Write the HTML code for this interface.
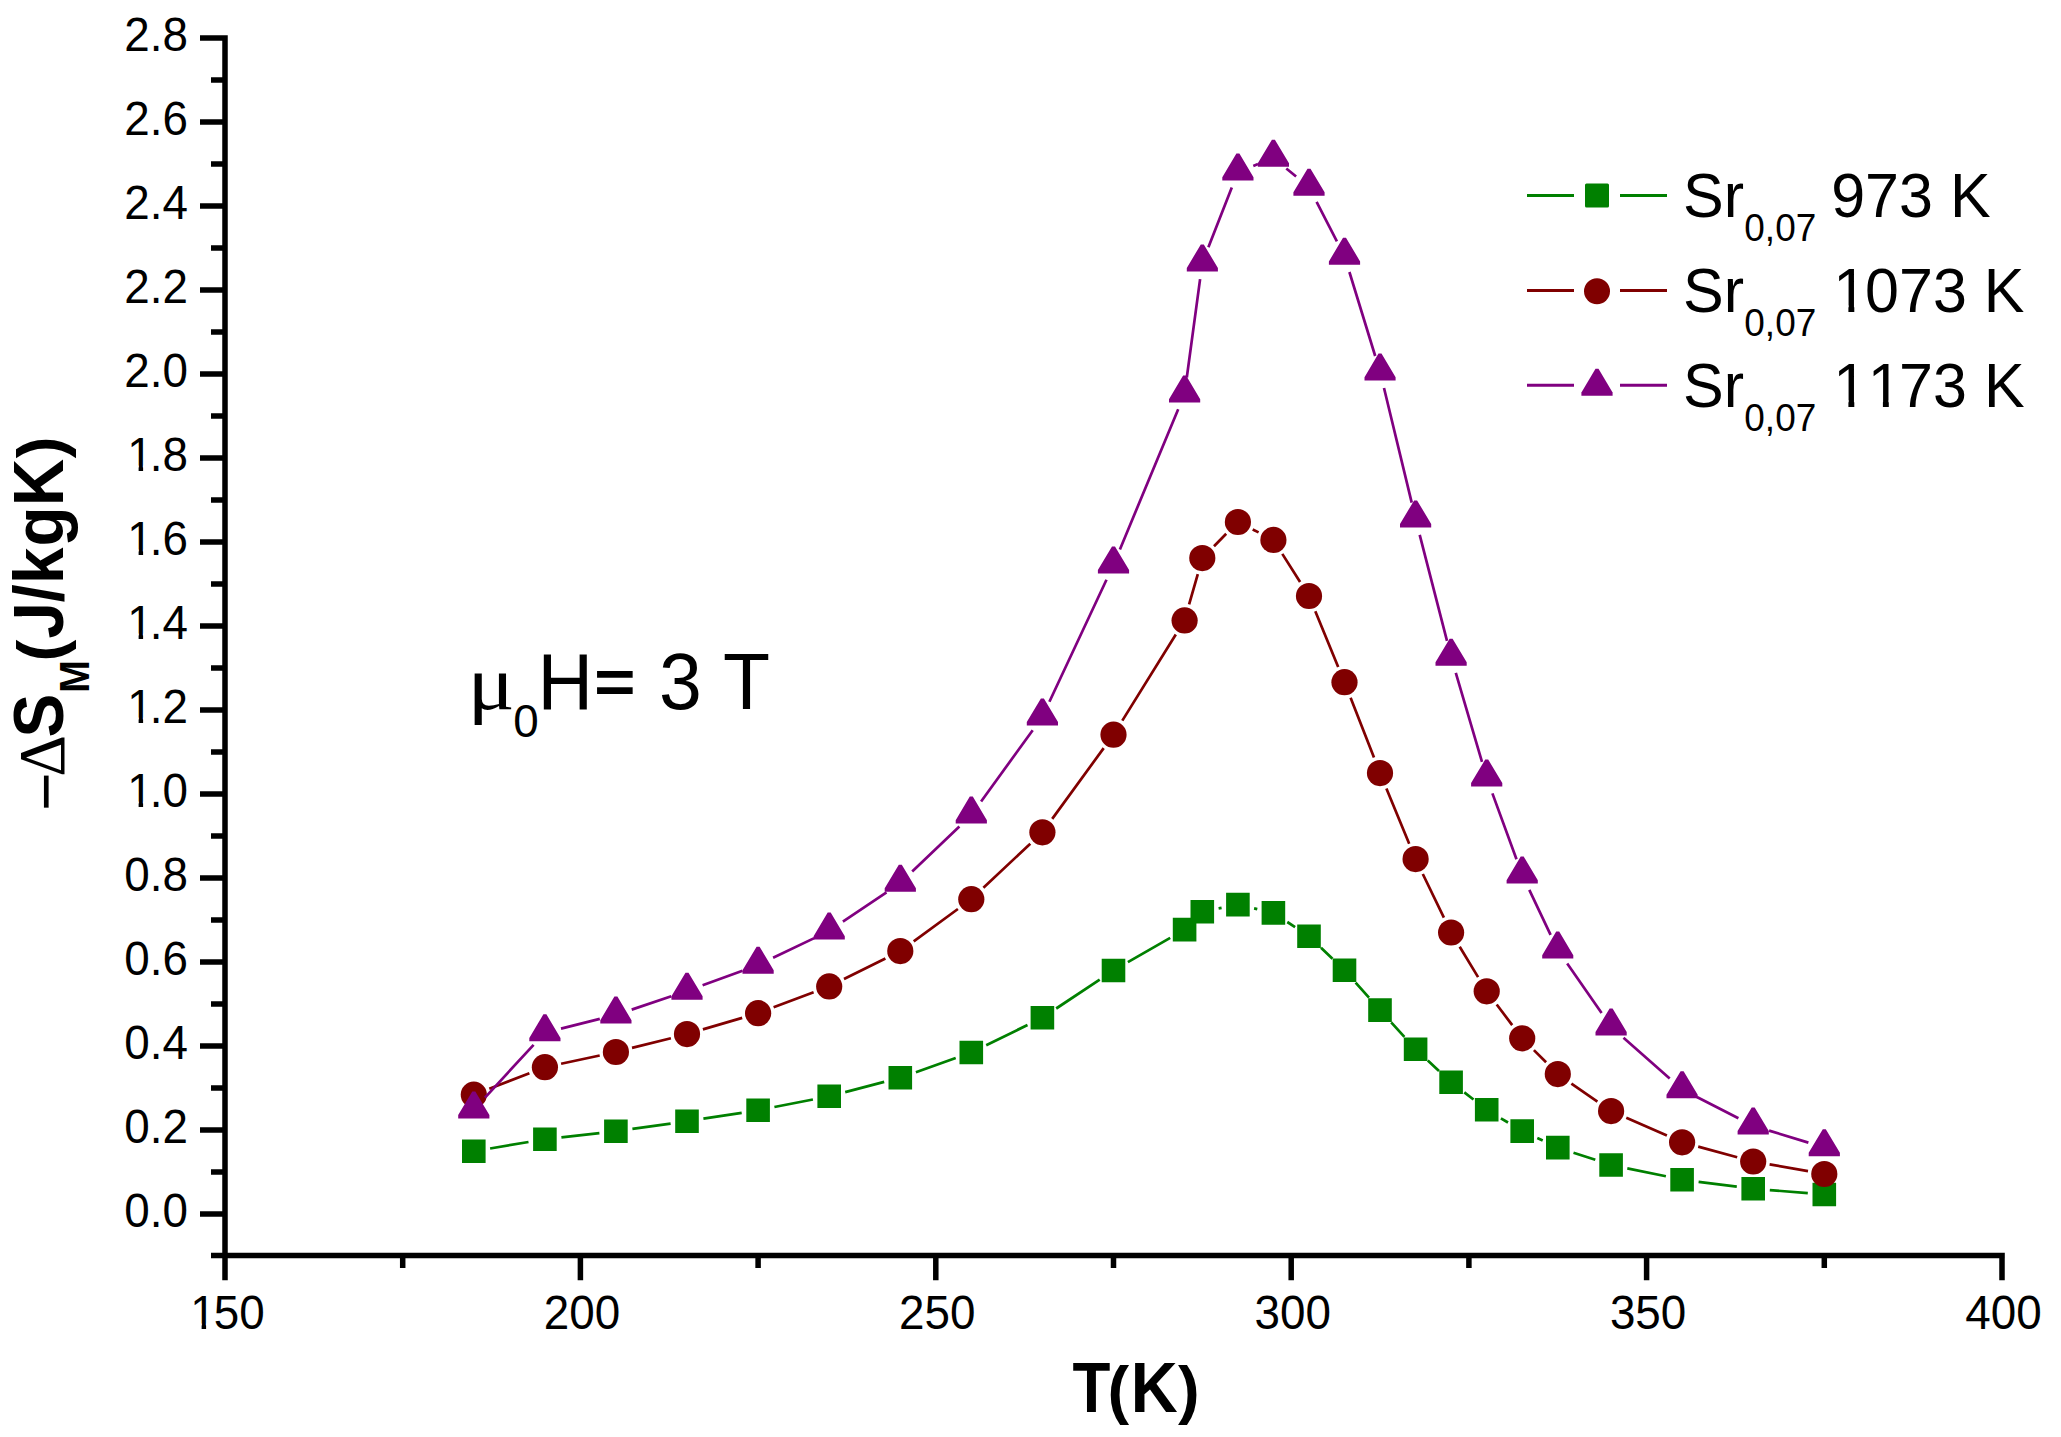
<!DOCTYPE html>
<html lang="en"><head><meta charset="utf-8"><title>Magnetic entropy change vs temperature</title>
<style>
html,body{margin:0;padding:0;background:#fff;}
body{width:2061px;height:1437px;overflow:hidden;}
svg{display:block;}
text{font-family:"Liberation Sans",sans-serif;fill:#000;font-kerning:none;white-space:pre;}
.tk{font-size:45.8px;}
.lg{font-size:61px;}
.lgs{font-size:37px;}
.b{font-weight:bold;}
.sym{font-family:"Liberation Serif","DejaVu Serif",serif;}
</style></head><body>
<svg width="2061" height="1437" viewBox="0 0 2061 1437">
<rect width="2061" height="1437" fill="#fff"/>
<path d="M225 35.2V1280.3M211 1255.6H2004.8M200 38H225M211 80H225M200 122H225M211 164H225M200 206H225M211 248H225M200 290H225M211 332H225M200 374H225M211 416H225M200 458H225M211 500H225M200 542H225M211 584H225M200 626H225M211 668H225M200 710H225M211 752H225M200 794H225M211 836H225M200 878H225M211 920H225M200 962H225M211 1004H225M200 1046H225M211 1088H225M200 1130H225M211 1172H225M200 1214H225M402.7 1255.6V1268.1M580.4 1255.6V1280.3M758.1 1255.6V1268.1M935.8 1255.6V1280.3M1113.5 1255.6V1268.1M1291.2 1255.6V1280.3M1468.9 1255.6V1268.1M1646.6 1255.6V1280.3M1824.3 1255.6V1268.1M2002 1255.6V1280.3" stroke="#000" stroke-width="5.5" fill="none" stroke-linecap="butt"/>
<defs><clipPath id="c1t"><path d="M-6 -35.8H28V-5.1H15.8V2H11.3V-5.1H-6z"/></clipPath><clipPath id="c1l"><path d="M-6 -47.7H37.2V-6.9H21V2H15.1V-6.9H-6z"/></clipPath></defs>
<g class="tk">
<text transform="translate(0 50.7) scale(1 1.03)" x="188" y="0" text-anchor="end">2.8</text>
<text transform="translate(0 134.7) scale(1 1.03)" x="188" y="0" text-anchor="end">2.6</text>
<text transform="translate(0 218.7) scale(1 1.03)" x="188" y="0" text-anchor="end">2.4</text>
<text transform="translate(0 302.7) scale(1 1.03)" x="188" y="0" text-anchor="end">2.2</text>
<text transform="translate(0 386.7) scale(1 1.03)" x="188" y="0" text-anchor="end">2.0</text>
<g transform="translate(0 470.7) scale(1 1.03)"><text clip-path="url(#c1t)" transform="translate(127.3 0)">1</text><text x="188" y="0" text-anchor="end">.8</text></g>
<g transform="translate(0 554.7) scale(1 1.03)"><text clip-path="url(#c1t)" transform="translate(127.3 0)">1</text><text x="188" y="0" text-anchor="end">.6</text></g>
<g transform="translate(0 638.7) scale(1 1.03)"><text clip-path="url(#c1t)" transform="translate(127.3 0)">1</text><text x="188" y="0" text-anchor="end">.4</text></g>
<g transform="translate(0 722.7) scale(1 1.03)"><text clip-path="url(#c1t)" transform="translate(127.3 0)">1</text><text x="188" y="0" text-anchor="end">.2</text></g>
<g transform="translate(0 806.7) scale(1 1.03)"><text clip-path="url(#c1t)" transform="translate(127.3 0)">1</text><text x="188" y="0" text-anchor="end">.0</text></g>
<text transform="translate(0 890.7) scale(1 1.03)" x="188" y="0" text-anchor="end">0.8</text>
<text transform="translate(0 974.7) scale(1 1.03)" x="188" y="0" text-anchor="end">0.6</text>
<text transform="translate(0 1058.7) scale(1 1.03)" x="188" y="0" text-anchor="end">0.4</text>
<text transform="translate(0 1142.7) scale(1 1.03)" x="188" y="0" text-anchor="end">0.2</text>
<text transform="translate(0 1226.7) scale(1 1.03)" x="188" y="0" text-anchor="end">0.0</text>
</g>
<g class="tk">
<g transform="translate(0 1328.8) scale(1 1.03)"><text clip-path="url(#c1t)" transform="translate(190.3 0)">1</text><text x="213.8" y="0">50</text></g>
<text transform="translate(0 1328.8) scale(1 1.03)" x="581.9" y="0" text-anchor="middle">200</text>
<text transform="translate(0 1328.8) scale(1 1.03)" x="937.3" y="0" text-anchor="middle">250</text>
<text transform="translate(0 1328.8) scale(1 1.03)" x="1292.7" y="0" text-anchor="middle">300</text>
<text transform="translate(0 1328.8) scale(1 1.03)" x="1648.1" y="0" text-anchor="middle">350</text>
<text transform="translate(0 1328.8) scale(1 1.03)" x="2003.5" y="0" text-anchor="middle">400</text>
</g>
<path d="M490.1 1148.5L528.5 1142M561.4 1137.3L599.4 1133.1M632.4 1128.9L670.6 1123.6M703.4 1118.7L741.7 1112.8M774.4 1107L812.9 1099.5M845.2 1092.1L884.2 1081.9M915.9 1072.2L955.7 1058M986.2 1045.2L1027.5 1025M1056.2 1008.5L1099.7 979.7M1127.9 962.2L1170.2 937.9M1218.6 908.4L1221.6 907.9M1254.1 908.4L1257.3 909.1M1287.3 922L1295.1 927.1M1321 947.7L1332.5 958.7M1355.6 982.6L1369 997.7M1391.2 1022.4L1404.4 1036.9M1427.8 1060.5L1439 1070.9M1464.3 1092.4L1473.5 1099.5M1500.9 1118.3L1508 1122.5M1537.3 1138.1L1542.7 1140.6M1573.5 1152.8L1595.3 1159.8M1627.3 1168.4L1665.9 1176.3M1698.6 1181.8L1736.8 1186.6M1769.8 1190.1L1807.8 1193.1" stroke="#008000" stroke-width="2.7" fill="none" stroke-linecap="butt"/>
<path d="M462 1139.5h23.6v23.6h-23.6zM533.1 1127.4h23.6v23.6h-23.6zM604.1 1119.4h23.6v23.6h-23.6zM675.2 1109.5h23.6v23.6h-23.6zM746.3 1098.4h23.6v23.6h-23.6zM817.4 1084.5h23.6v23.6h-23.6zM888.5 1065.9h23.6v23.6h-23.6zM959.5 1040.7h23.6v23.6h-23.6zM1030.6 1005.9h23.6v23.6h-23.6zM1101.7 958.7h23.6v23.6h-23.6zM1172.8 917.8h23.6v23.6h-23.6zM1190.5 899.9h23.6v23.6h-23.6zM1226.1 892.8h23.6v23.6h-23.6zM1261.6 901.1h23.6v23.6h-23.6zM1297.2 924.4h23.6v23.6h-23.6zM1332.7 958.4h23.6v23.6h-23.6zM1368.2 998.3h23.6v23.6h-23.6zM1403.8 1037.4h23.6v23.6h-23.6zM1439.3 1070.4h23.6v23.6h-23.6zM1474.9 1097.9h23.6v23.6h-23.6zM1510.4 1119.3h23.6v23.6h-23.6zM1546 1135.8h23.6v23.6h-23.6zM1599.3 1153.2h23.6v23.6h-23.6zM1670.3 1167.9h23.6v23.6h-23.6zM1741.4 1176.9h23.6v23.6h-23.6zM1812.5 1182.7h23.6v23.6h-23.6z" fill="#008000"/>
<path d="M489.3 1088.7L529.4 1073.2M561.1 1063.7L599.7 1055.5M632 1047.9L670.9 1038.2M702.9 1029.4L742.2 1017.9M773.6 1007.3L813.6 992.3M844 979L885.4 958.5M913.7 941.3L957.9 909M983.4 887.8L1030.3 843.7M1052.2 818.9L1103.7 748.1M1122.3 720.6L1175.8 634.5M1189.1 604.4L1197.8 574.1M1214 546.3L1226.2 533.8M1252.7 529.5L1258.6 532.4M1282.3 553.9L1300.1 582M1315.3 611.3L1338.2 666.9M1350.6 697.7L1374 757.6M1386.4 788.4L1409.2 843.8M1422.8 874L1443.9 917.6M1459.7 946.7L1478.1 977.1M1496.7 1004.5L1512.2 1025.1M1533.9 1050.1L1546.1 1062.3M1571.4 1083.6L1597.4 1101.6M1626.3 1117.8L1666.9 1135.6M1698.2 1146.6L1737.2 1157.2M1769.6 1164.4L1808 1171.1" stroke="#800000" stroke-width="2.7" fill="none" stroke-linecap="butt"/>
<g fill="#800000"><circle cx="473.8" cy="1094.7" r="13.1"/><circle cx="544.9" cy="1067.2" r="13.1"/><circle cx="615.9" cy="1052" r="13.1"/><circle cx="687" cy="1034.1" r="13.1"/><circle cx="758.1" cy="1013.2" r="13.1"/><circle cx="829.2" cy="986.4" r="13.1"/><circle cx="900.3" cy="951.1" r="13.1"/><circle cx="971.3" cy="899.2" r="13.1"/><circle cx="1042.4" cy="832.3" r="13.1"/><circle cx="1113.5" cy="734.7" r="13.1"/><circle cx="1184.6" cy="620.4" r="13.1"/><circle cx="1202.3" cy="558.1" r="13.1"/><circle cx="1237.9" cy="522" r="13.1"/><circle cx="1273.4" cy="539.9" r="13.1"/><circle cx="1309" cy="596" r="13.1"/><circle cx="1344.5" cy="682.2" r="13.1"/><circle cx="1380" cy="773.1" r="13.1"/><circle cx="1415.6" cy="859.1" r="13.1"/><circle cx="1451.1" cy="932.5" r="13.1"/><circle cx="1486.7" cy="991.3" r="13.1"/><circle cx="1522.2" cy="1038.3" r="13.1"/><circle cx="1557.8" cy="1074.1" r="13.1"/><circle cx="1611.1" cy="1111.1" r="13.1"/><circle cx="1682.1" cy="1142.3" r="13.1"/><circle cx="1753.2" cy="1161.5" r="13.1"/><circle cx="1824.3" cy="1174" r="13.1"/></g>
<path d="M485 1097.6L533.6 1044.8M561 1028.6L599.8 1018.9M631.7 1009.6L671.3 996.3M702.6 985.3L742.5 970.7M773.1 957.8L814.2 938.1M842.9 921.6L886.5 892.3M912.2 871.5L959.4 826.4M981.1 801.5L1032.7 730.2M1049.4 701.8L1106.5 579.7M1119.9 549.4L1178.2 409.2M1186.8 377.5L1200.1 279.1M1208.4 247.2L1231.8 187.4M1253.3 165.9L1258 164M1286.3 168.5L1296.1 176.5M1316.6 201.8L1336.9 241.3M1349.4 272L1375.2 356M1384 388L1411.7 502.6M1419.7 534.8L1447 640.9M1455.8 672.9L1482 761.9M1492.4 793.4L1516.5 859.3M1529.3 889.9L1550.6 934.9M1567.2 963.5L1601.6 1013.1M1623.5 1037.7L1669.7 1078.5M1696.9 1097L1738.4 1118.2M1769.1 1130.6L1808.4 1142.6" stroke="#800080" stroke-width="2.7" fill="none" stroke-linecap="butt"/>
<path d="M458.2 1118.5V1115.1L472.3 1091.5h3L489.4 1115.1V1118.5zM529.3 1041.3V1037.9L543.4 1014.3h3L560.5 1037.9V1041.3zM600.3 1023.6V1020.2L614.4 996.6h3L631.5 1020.2V1023.6zM671.4 999.7V996.3L685.5 972.7h3L702.6 996.3V999.7zM742.5 973.7V970.3L756.6 946.7h3L773.7 970.3V973.7zM813.6 939.6V936.2L827.7 912.6h3L844.8 936.2V939.6zM884.7 891.7V888.3L898.8 864.7h3L915.9 888.3V891.7zM955.7 823.6V820.2L969.8 796.6h3L986.9 820.2V823.6zM1026.8 725.5V722.1L1040.9 698.5h3L1058 722.1V725.5zM1097.9 573.4V570L1112 546.4h3L1129.1 570V573.4zM1169 402.6V399.2L1183.1 375.6h3L1200.2 399.2V402.6zM1186.8 271.4V268L1200.8 244.4h3L1217.9 268V271.4zM1222.3 180.6V177.2L1236.4 153.6h3L1253.5 177.2V180.6zM1257.8 166.7V163.3L1271.9 139.7h3L1289 163.3V166.7zM1293.4 195.7V192.3L1307.5 168.7h3L1324.6 192.3V195.7zM1328.9 264.8V261.4L1343 237.8h3L1360.1 261.4V264.8zM1364.5 380.6V377.2L1378.5 353.6h3L1395.6 377.2V380.6zM1400 527.4V524L1414.1 500.4h3L1431.2 524V527.4zM1435.5 665.7V662.3L1449.6 638.7h3L1466.7 662.3V665.7zM1471.1 786.5V783.1L1485.2 759.5h3L1502.3 783.1V786.5zM1506.6 883.6V880.2L1520.7 856.6h3L1537.8 880.2V883.6zM1542.2 958.6V955.2L1556.2 931.6h3L1573.3 955.2V958.6zM1595.5 1035.4V1032L1609.6 1008.4h3L1626.7 1032V1035.4zM1666.5 1098.2V1094.8L1680.6 1071.2h3L1697.7 1094.8V1098.2zM1737.6 1134.4V1131L1751.7 1107.4h3L1768.8 1131V1134.4zM1808.7 1156.2V1152.8L1822.8 1129.2h3L1839.9 1152.8V1156.2z" fill="#800080"/>
<path d="M1527 195.4H1574M1620 195.4H1667" stroke="#008000" stroke-width="3" fill="none"/>
<rect x="1585" y="183.4" width="24" height="24" rx="1.5" fill="#008000"/>
<g transform="translate(0 217.4) scale(1 1.045)"><text class="lg" x="1683" y="0">Sr</text><text class="lgs" x="1744.3" y="22.2">0,07 </text><text class="lg" x="1831.2" y="0">973 K</text></g>
<path d="M1527 290.4H1574M1620 290.4H1667" stroke="#800000" stroke-width="3" fill="none"/>
<circle cx="1597" cy="291.2" r="13" fill="#800000"/>
<g transform="translate(0 312.4) scale(1 1.045)"><text class="lg" x="1683" y="0">Sr</text><text class="lgs" x="1744.3" y="22.2">0,07 </text><text class="lg" clip-path="url(#c1l)" transform="translate(1833.3 0)">1</text><text class="lg" x="1865.1" y="0">073 K</text></g>
<path d="M1527 385.3H1574M1620 385.3H1667" stroke="#800080" stroke-width="3" fill="none"/>
<path d="M1581.4 395.8V392.4L1595.5 368.8h3L1612.6 392.4V395.8z" fill="#800080"/>
<g transform="translate(0 407.3) scale(1 1.045)"><text class="lg" x="1683" y="0">Sr</text><text class="lgs" x="1744.3" y="22.2">0,07 </text><text class="lg" clip-path="url(#c1l)" transform="translate(1833.3 0)">1</text><text class="lg" clip-path="url(#c1l)" transform="translate(1867.8 0)">1</text><text class="lg" x="1899.1" y="0">73 K</text></g>
<text class="sym" transform="translate(467.6 709.1) scale(1.16 1)" x="0" y="0" font-size="76">μ</text><text x="513.3" y="737.3" font-size="45.8">0</text><text transform="translate(0 709.1) scale(1 1.0390)" x="537.6" y="0" font-size="77">H</text><text transform="translate(615 682.6) scale(0.895 0.84) translate(-22.5 25.3)" font-size="77" stroke="#000" stroke-width="2.4">= </text><text transform="translate(0 709.1) scale(1 1.0390)" x="659 679 723" y="0" font-size="77">3 T</text>
<text class="b" transform="translate(1072.5 1412) scale(0.955 1.0697)" font-size="65">T</text><text class="b" x="1107.6" y="1412" font-size="65">(</text><text class="b" transform="translate(0 1412) scale(1 1.0697)" x="1130.7" y="0" font-size="65">K</text><text class="b" x="1177.9" y="1412" font-size="65">)</text>
<defs><clipPath id="cJ"><path d="M-10 -33.3H22.3V-48H41.6V30H-10z"/></clipPath></defs>
<g transform="translate(63 0) rotate(-90)"><text x="-810.7" y="5.3" font-size="66">−</text><text class="sym" x="-776.8" y="0.5" font-size="65">Δ</text><text class="b" transform="scale(1 1.0659)" x="-737.5" y="0" font-size="65.5">S</text><text class="b" transform="translate(0 26.1) scale(1 1.0753)" x="-692.9" y="0" font-size="39.5">M</text><text class="b" x="-661.4" y="0" font-size="65.5">(</text><text class="b" clip-path="url(#cJ)" transform="scale(1 1.0659) translate(-638.6 0)" font-size="65.5">J</text><text class="b" transform="scale(1 1.0659)" x="-602.4 -584.1 -546.5 -506.2" y="0" font-size="65.5">/kgK</text><text class="b" x="-458.2" y="0" font-size="65.5">)</text></g>
</svg></body></html>
